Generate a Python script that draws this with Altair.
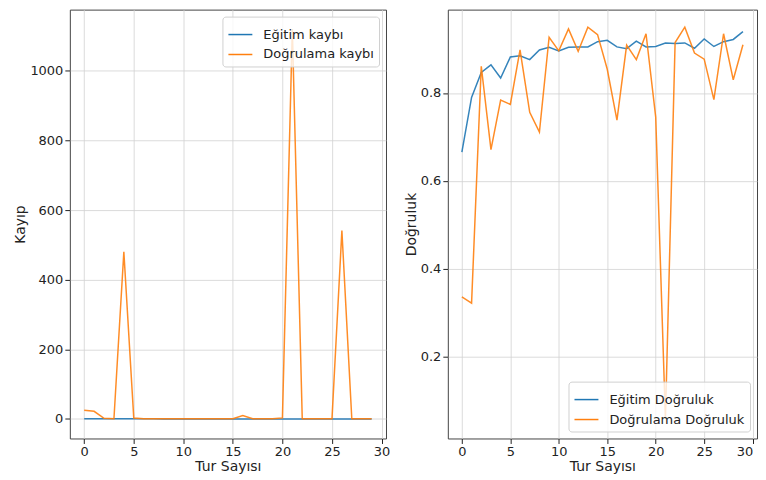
import altair as alt
import pandas as pd

epochs = list(range(30))

loss_labels = ["Eğitim kaybı", "Doğrulama kaybı"]
acc_labels = ["Eğitim Doğruluk", "Doğrulama Doğruluk"]

train_loss = [1.0, 0.55, 0.42, 0.40, 0.45, 0.35, 0.33, 0.34, 0.30, 0.28,
              0.30, 0.27, 0.27, 0.27, 0.25, 0.24, 0.27, 0.28, 0.25, 0.27,
              0.27, 0.26, 0.26, 0.26, 0.28, 0.24, 0.27, 0.25, 0.24, 0.20]
val_loss = [25, 22, 2, 0.5, 480, 3, 1, 0.5, 0.5, 0.5,
            0.5, 0.5, 0.5, 0.5, 0.5, 1, 10, 0.5, 0.5, 0.5,
            3, 1120, 0.5, 0.5, 0.5, 0.5, 541, 0.5, 0.5, 0.5]

train_acc = [0.665, 0.790, 0.847, 0.864, 0.834, 0.882, 0.885, 0.876, 0.898, 0.904,
             0.896, 0.904, 0.905, 0.905, 0.917, 0.920, 0.905, 0.901, 0.918, 0.905,
             0.906, 0.914, 0.913, 0.914, 0.902, 0.923, 0.906, 0.917, 0.922, 0.940]
val_acc = [0.335, 0.321, 0.861, 0.671, 0.784, 0.774, 0.898, 0.756, 0.711, 0.927,
           0.896, 0.946, 0.895, 0.950, 0.933, 0.854, 0.738, 0.909, 0.876, 0.935,
           0.745, 0.057, 0.915, 0.950, 0.891, 0.877, 0.785, 0.935, 0.830, 0.910]

x_ticks = [0, 5, 10, 15, 20, 25, 30]
loss_ticks = [0, 200, 400, 600, 800, 1000]
acc_ticks = [0.2, 0.4, 0.6, 0.8]

colors = ["#1f77b4", "#ff7f0e"]
FONT = "DejaVu Sans"


def long_df(labels, a, b):
    return pd.DataFrame({
        "epoch": epochs * 2,
        "value": a + b,
        "series": [labels[0]] * len(a) + [labels[1]] * len(b),
    })


def panel(df, labels, ydomain, yticks, yfmt, ytitle, orient, extent, tpad,
          width, flush):
    xaxis = dict(values=x_ticks, title="Tur Sayısı", format="d", titlePadding=1)
    if flush:
        xaxis["labelFlush"] = 6
    enc = dict(
        x=alt.X("epoch:Q",
                scale=alt.Scale(domain=[-1.45, 30.45], nice=False, zero=False),
                axis=alt.Axis(**xaxis)),
        y=alt.Y("value:Q",
                scale=alt.Scale(domain=ydomain, nice=False, zero=False),
                axis=alt.Axis(values=yticks, title=ytitle, format=yfmt,
                              minExtent=extent, maxExtent=extent, titlePadding=tpad)),
        color=alt.Color("series:N",
                        scale=alt.Scale(domain=labels, range=colors),
                        title=None,
                        legend=alt.Legend(orient=orient, offset=7,
                                          fillColor="rgba(255,255,255,0.8)",
                                          strokeColor="#d0d0d0", cornerRadius=3,
                                          padding=5, symbolType="stroke",
                                          symbolSize=576, symbolStrokeWidth=1.5,
                                          labelFontSize=13, labelFont=FONT,
                                          labelColor="#222", labelOffset=10,
                                          rowPadding=0)),
    )
    layers = []
    for lab in labels:
        layers.append(
            alt.Chart(df).transform_filter(alt.datum.series == lab)
            .mark_line(strokeWidth=1.5, strokeOpacity=0.9, clip=True).encode(**enc)
        )
    return alt.layer(*layers).properties(width=width, height=430)


left = panel(long_df(loss_labels, train_loss, val_loss), loss_labels,
             [-56, 1176], loss_ticks, "d", "Kayıp", "top-right", 38, 4, 317, False)
right = panel(long_df(acc_labels, train_acc, val_acc), acc_labels,
              [0.0125, 0.99], acc_ticks, ".1f", "Doğruluk", "bottom-right", 26, 3,
              310, True)

chart = (
    alt.hconcat(left, right, spacing=13)
    .resolve_scale(color="independent")
    .properties(padding={"left": 5, "top": 0, "right": 0, "bottom": 0})
    .configure_view(stroke="#444", strokeWidth=1)
    .configure_axis(
        labelFont=FONT, titleFont=FONT, labelFontSize=13, titleFontSize=14,
        titleFontWeight="normal", labelColor="#222", titleColor="#222",
        tickColor="#222", tickSize=5, labelPadding=2, domain=False,
        gridColor="#d2d2d2", gridWidth=0.8,
    )
)

chart.save("out.html", embed_options={"renderer": "svg", "actions": False})
